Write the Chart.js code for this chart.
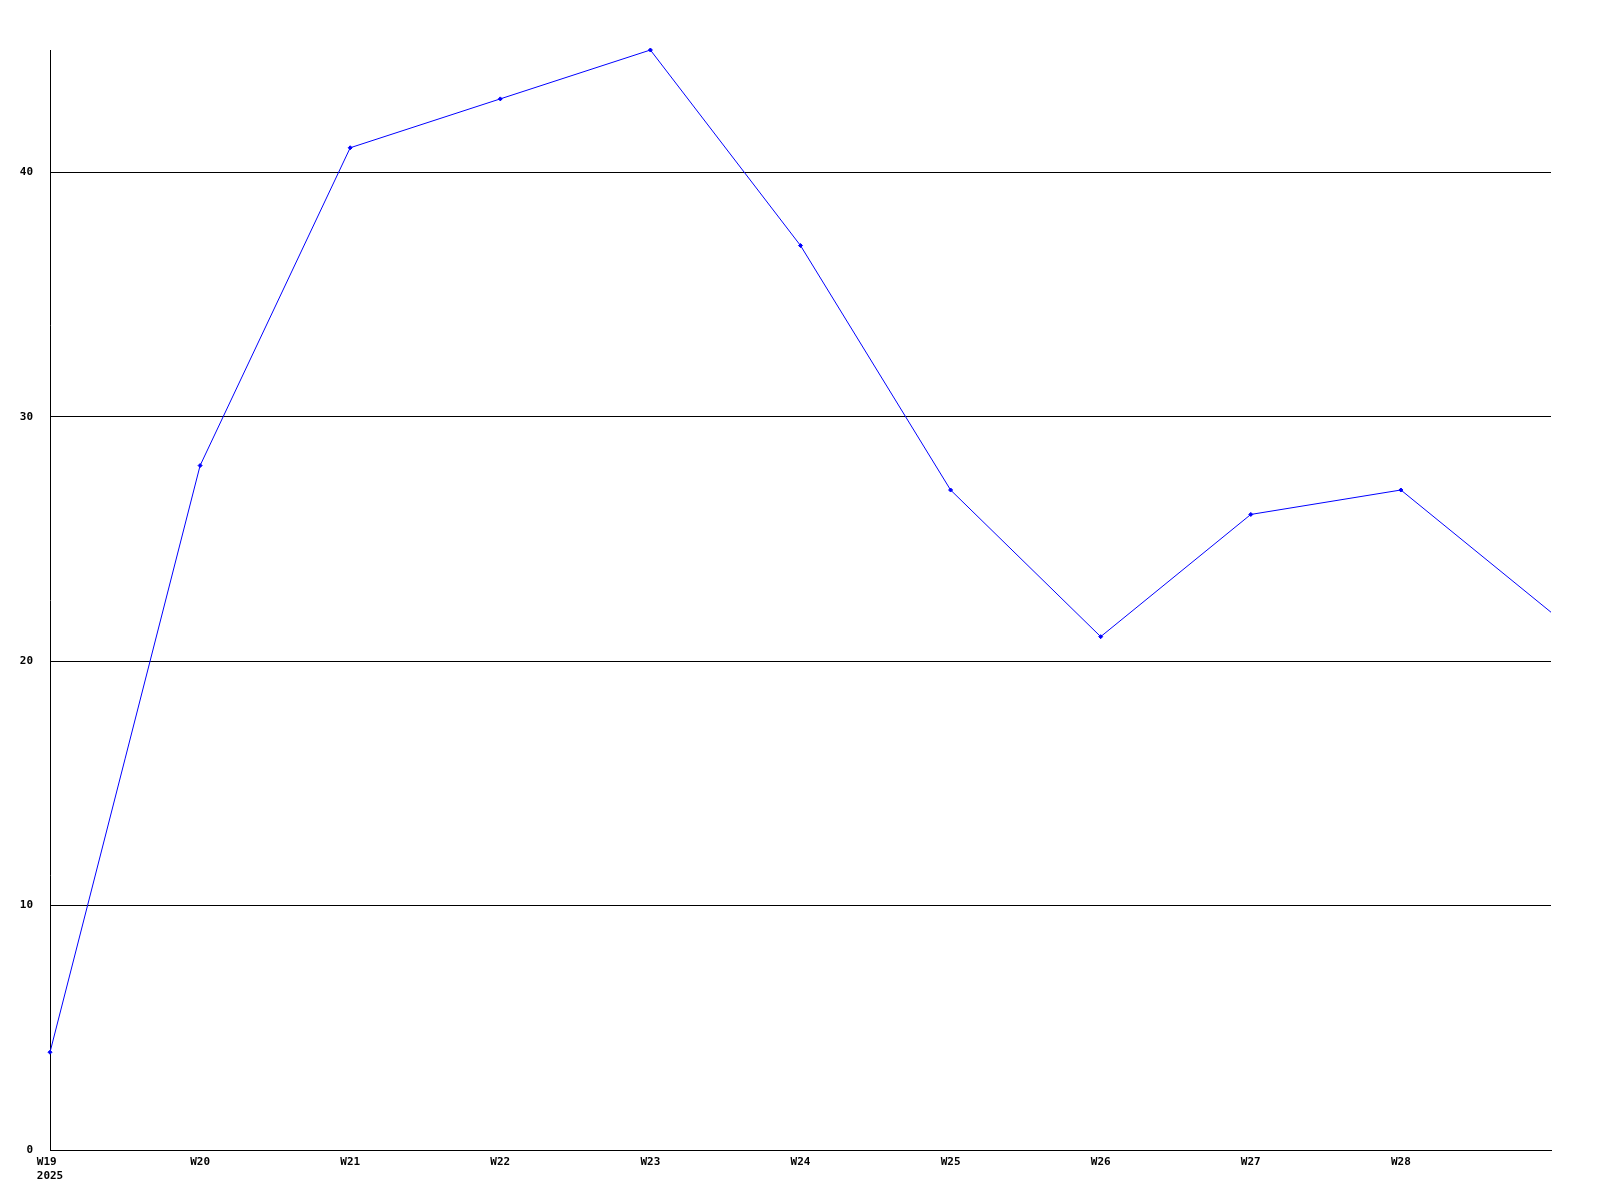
<!DOCTYPE html>
<html>
<head>
<meta charset="utf-8">
<script src="https://cdn.jsdelivr.net/npm/chart.js@4.4.1/dist/chart.umd.min.js"></script>
<style>
  body { margin: 0; background: #fff; }
  canvas { display: block; }
</style>
</head>
<body>
<canvas id="weekChart" width="1600" height="1200"></canvas>
<script>
// --------------------- Data ---------------------
const weeks = [['W19 ', '2025'], 'W20', 'W21', 'W22', 'W23', 'W24', 'W25', 'W26', 'W27', 'W28', ''];
const counts = [4, 28, 41, 43, 45, 37, 27, 21, 26, 27, 22];
const yTicks = [0, 10, 20, 30, 40];

const tickFont = { family: 'DejaVu Sans Mono', size: 11, weight: 'bold' };

// --------------------- Chart ---------------------
const ctx = document.getElementById('weekChart').getContext('2d');

new Chart(ctx, {
  type: 'line',
  data: {
    labels: weeks,
    datasets: [{
      data: counts,
      borderColor: '#0000ff',
      borderWidth: 1,
      backgroundColor: '#0000ff',
      pointStyle: 'rectRot',
      // last point runs off the edge, no marker there
      pointRadius: c => (c.dataIndex === counts.length - 1 ? 0 : 2),
      pointBorderWidth: 1,
      tension: 0,
      fill: false,
      clip: false
    }]
  },
  options: {
    responsive: false,
    devicePixelRatio: 1,
    animation: false,
    layout: { padding: { top: 50, right: 49, left: 0, bottom: 0 } },
    plugins: { legend: { display: false }, tooltip: { enabled: false } },
    scales: {
      x: {
        offset: false,
        grid: { display: false, drawTicks: false },
        border: { display: true, color: '#000', width: 1 },
        ticks: {
          color: '#000',
          font: tickFont,
          padding: 6,
          maxRotation: 0,
          autoSkip: false
        },
        afterFit: scale => { scale.height = 50; }
      },
      y: {
        min: 0,
        max: 45,
        grid: {
          drawTicks: false,
          color: c => (yTicks.includes(c.tick.value) ? '#000' : 'rgba(0,0,0,0)'),
          lineWidth: 1
        },
        border: { display: true, color: '#000', width: 1 },
        ticks: {
          stepSize: 10,
          color: '#000',
          font: tickFont,
          padding: 17,
          callback: v => (yTicks.includes(v) ? String(v) : '')
        },
        afterFit: scale => { scale.width = 50; }
      }
    }
  }
});
</script>
</body>
</html>
